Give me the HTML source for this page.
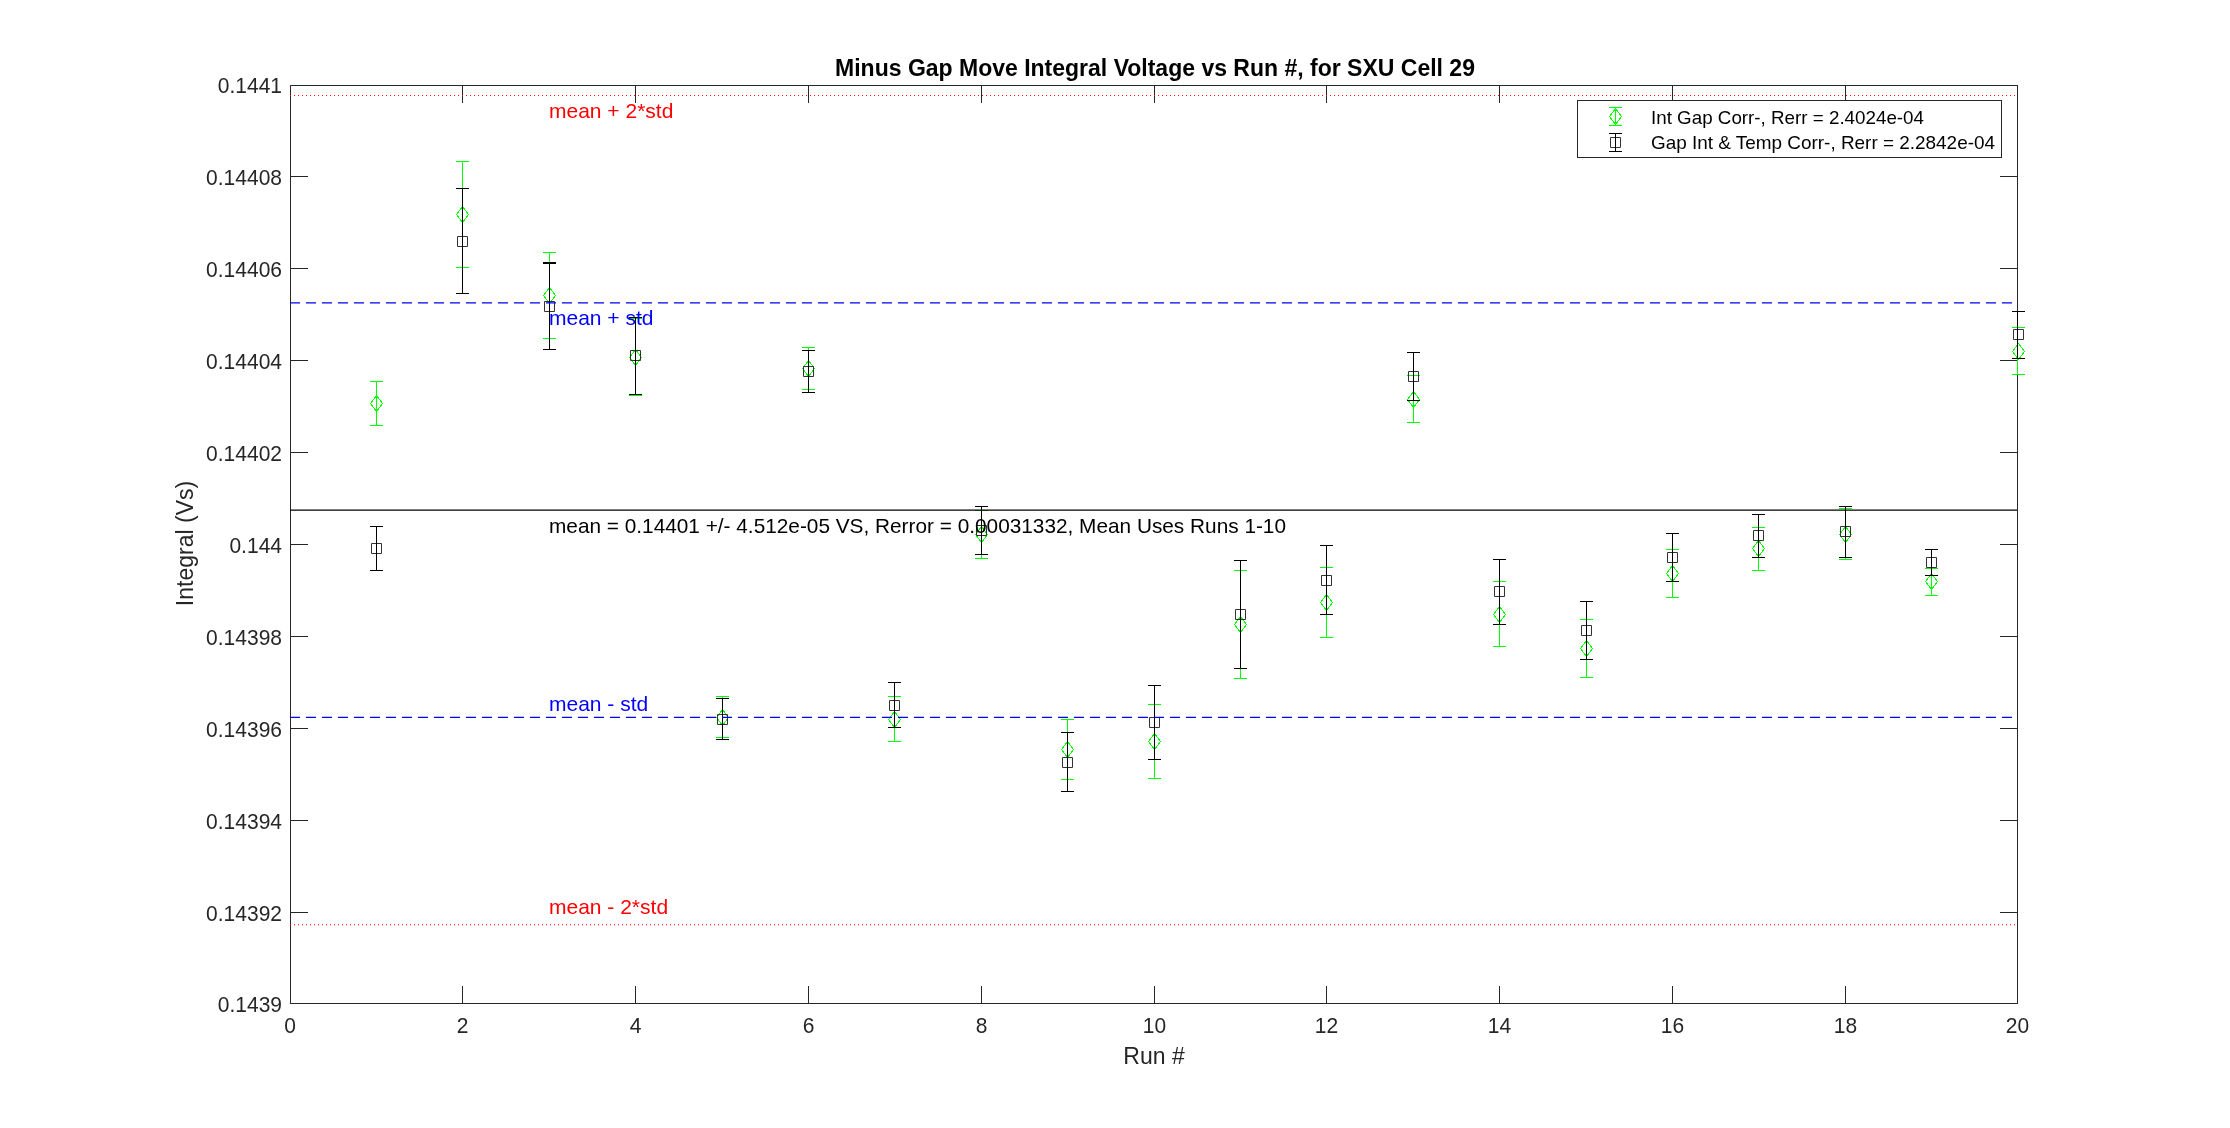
<!DOCTYPE html>
<html><head><meta charset="utf-8"><title>Minus Gap Move Integral Voltage vs Run #, for SXU Cell 29</title>
<style>html,body{margin:0;padding:0;background:#fff;}body{width:2230px;height:1128px;position:relative;overflow:hidden;}</style>
</head><body>
<svg width="2230" height="1128" viewBox="0 0 2230 1128" style="position:absolute;left:0;top:0;will-change:transform">
<rect width="100%" height="100%" fill="#fff"/>
<path d="M290.5 85.5H2017.5V1003.5H290.5ZM290.5 1003.5V986.0M290.5 85.5V103.0M462.5 1003.5V986.0M462.5 85.5V103.0M635.5 1003.5V986.0M635.5 85.5V103.0M808.5 1003.5V986.0M808.5 85.5V103.0M981.5 1003.5V986.0M981.5 85.5V103.0M1154.5 1003.5V986.0M1154.5 85.5V103.0M1326.5 1003.5V986.0M1326.5 85.5V103.0M1499.5 1003.5V986.0M1499.5 85.5V103.0M1672.5 1003.5V986.0M1672.5 85.5V103.0M1845.5 1003.5V986.0M1845.5 85.5V103.0M2017.5 1003.5V986.0M2017.5 85.5V103.0M290.5 85.5H308.0M2017.5 85.5H2000.0M290.5 176.5H308.0M2017.5 176.5H2000.0M290.5 268.5H308.0M2017.5 268.5H2000.0M290.5 360.5H308.0M2017.5 360.5H2000.0M290.5 452.5H308.0M2017.5 452.5H2000.0M290.5 544.5H308.0M2017.5 544.5H2000.0M290.5 636.5H308.0M2017.5 636.5H2000.0M290.5 728.5H308.0M2017.5 728.5H2000.0M290.5 820.5H308.0M2017.5 820.5H2000.0M290.5 912.5H308.0M2017.5 912.5H2000.0M290.5 1003.5H308.0M2017.5 1003.5H2000.0" fill="none" stroke="#262626" stroke-width="1"/>
<path d="M376.5 381.5V425.5M370.0 381.5H383.0M370.0 425.5H383.0M462.5 161.5V267.5M456.0 161.5H469.0M456.0 267.5H469.0M549.5 252.5V338.5M543.0 252.5H556.0M543.0 338.5H556.0M635.5 318.5V395.5M629.0 318.5H642.0M629.0 395.5H642.0M722.5 696.5V737.5M716.0 696.5H729.0M716.0 737.5H729.0M808.5 347.5V389.5M802.0 347.5H815.0M802.0 389.5H815.0M894.5 696.5V741.5M888.0 696.5H901.0M888.0 741.5H901.0M981.5 510.5V558.5M975.0 510.5H988.0M975.0 558.5H988.0M1067.5 719.5V779.5M1061.0 719.5H1074.0M1061.0 779.5H1074.0M1154.5 704.5V778.5M1148.0 704.5H1161.0M1148.0 778.5H1161.0M1240.5 570.5V678.5M1234.0 570.5H1247.0M1234.0 678.5H1247.0M1326.5 567.5V637.5M1320.0 567.5H1333.0M1320.0 637.5H1333.0M1413.5 375.5V422.5M1407.0 375.5H1420.0M1407.0 422.5H1420.0M1499.5 581.5V646.5M1493.0 581.5H1506.0M1493.0 646.5H1506.0M1586.5 619.5V677.5M1580.0 619.5H1593.0M1580.0 677.5H1593.0M1672.5 549.5V597.5M1666.0 549.5H1679.0M1666.0 597.5H1679.0M1758.5 527.5V570.5M1752.0 527.5H1765.0M1752.0 570.5H1765.0M1845.5 508.5V559.5M1839.0 508.5H1852.0M1839.0 559.5H1852.0M1931.5 568.5V595.5M1925.0 568.5H1938.0M1925.0 595.5H1938.0M2017.5 327.5V374.5M2012.0 327.5H2025.0M2012.0 374.5H2025.0" fill="none" stroke="#00ff00" stroke-width="1"/>
<path d="M376.5 395.5L382.5 403.5L376.5 411.5L370.5 403.5ZM462.5 206.5L468.5 214.5L462.5 222.5L456.5 214.5ZM549.5 287.5L555.5 295.5L549.5 303.5L543.5 295.5ZM635.5 349.5L641.5 357.5L635.5 365.5L629.5 357.5ZM722.5 709.5L728.5 717.5L722.5 725.5L716.5 717.5ZM808.5 360.5L814.5 368.5L808.5 376.5L802.5 368.5ZM894.5 711.5L900.5 719.5L894.5 727.5L888.5 719.5ZM981.5 526.5L987.5 534.5L981.5 542.5L975.5 534.5ZM1067.5 741.5L1073.5 749.5L1067.5 757.5L1061.5 749.5ZM1154.5 733.5L1160.5 741.5L1154.5 749.5L1148.5 741.5ZM1240.5 616.5L1246.5 624.5L1240.5 632.5L1234.5 624.5ZM1326.5 594.5L1332.5 602.5L1326.5 610.5L1320.5 602.5ZM1413.5 391.5L1419.5 399.5L1413.5 407.5L1407.5 399.5ZM1499.5 606.5L1505.5 614.5L1499.5 622.5L1493.5 614.5ZM1586.5 640.5L1592.5 648.5L1586.5 656.5L1580.5 648.5ZM1672.5 565.5L1678.5 573.5L1672.5 581.5L1666.5 573.5ZM1758.5 540.5L1764.5 548.5L1758.5 556.5L1752.5 548.5ZM1845.5 526.5L1851.5 534.5L1845.5 542.5L1839.5 534.5ZM1931.5 573.5L1937.5 581.5L1931.5 589.5L1925.5 581.5ZM2018.5 343.5L2024.5 351.5L2018.5 359.5L2012.5 351.5Z" fill="none" stroke="#00ff00" stroke-width="1" shape-rendering="crispEdges"/>
<path d="M371.5 543.5H381.5V553.5H371.5ZM457.5 236.5H467.5V246.5H457.5ZM544.5 301.5H554.5V311.5H544.5ZM630.5 350.5H640.5V360.5H630.5ZM717.5 714.5H727.5V724.5H717.5ZM803.5 366.5H813.5V376.5H803.5ZM889.5 700.5H899.5V710.5H889.5ZM976.5 525.5H986.5V535.5H976.5ZM1062.5 757.5H1072.5V767.5H1062.5ZM1149.5 717.5H1159.5V727.5H1149.5ZM1235.5 609.5H1245.5V619.5H1235.5ZM1321.5 575.5H1331.5V585.5H1321.5ZM1408.5 371.5H1418.5V381.5H1408.5ZM1494.5 586.5H1504.5V596.5H1494.5ZM1581.5 625.5H1591.5V635.5H1581.5ZM1667.5 552.5H1677.5V562.5H1667.5ZM1753.5 530.5H1763.5V540.5H1753.5ZM1840.5 526.5H1850.5V536.5H1840.5ZM1926.5 557.5H1936.5V567.5H1926.5ZM2013.5 329.5H2023.5V339.5H2013.5Z" fill="none" stroke="#333" stroke-width="1"/>
<path d="M376.5 526.5V570.5M370.0 526.5H383.0M370.0 570.5H383.0M462.5 188.5V293.5M456.0 188.5H469.0M456.0 293.5H469.0M549.5 263.5V349.5M543.0 263.5H556.0M543.0 349.5H556.0M635.5 317.5V394.5M629.0 317.5H642.0M629.0 394.5H642.0M722.5 698.5V739.5M716.0 698.5H729.0M716.0 739.5H729.0M808.5 350.5V392.5M802.0 350.5H815.0M802.0 392.5H815.0M894.5 682.5V727.5M888.0 682.5H901.0M888.0 727.5H901.0M981.5 506.5V554.5M975.0 506.5H988.0M975.0 554.5H988.0M1067.5 732.5V791.5M1061.0 732.5H1074.0M1061.0 791.5H1074.0M1154.5 685.5V759.5M1148.0 685.5H1161.0M1148.0 759.5H1161.0M1240.5 560.5V668.5M1234.0 560.5H1247.0M1234.0 668.5H1247.0M1326.5 545.5V614.5M1320.0 545.5H1333.0M1320.0 614.5H1333.0M1413.5 352.5V400.5M1407.0 352.5H1420.0M1407.0 400.5H1420.0M1499.5 559.5V624.5M1493.0 559.5H1506.0M1493.0 624.5H1506.0M1586.5 601.5V659.5M1580.0 601.5H1593.0M1580.0 659.5H1593.0M1672.5 533.5V581.5M1666.0 533.5H1679.0M1666.0 581.5H1679.0M1758.5 514.5V557.5M1752.0 514.5H1765.0M1752.0 557.5H1765.0M1845.5 506.5V557.5M1839.0 506.5H1852.0M1839.0 557.5H1852.0M1931.5 549.5V575.5M1925.0 549.5H1938.0M1925.0 575.5H1938.0M2017.5 311.5V358.5M2012.0 311.5H2025.0M2012.0 358.5H2025.0M543.0 262.5H556.0" fill="none" stroke="#000" stroke-width="1"/>
<line x1="290" y1="95.5" x2="2017" y2="95.5" stroke="#ff0000" stroke-width="1" stroke-dasharray="1 3"/>
<line x1="290" y1="924.75" x2="2017" y2="924.75" stroke="#ff0000" stroke-width="1" stroke-dasharray="1 3"/>
<line x1="290" y1="302.84" x2="2017" y2="302.84" stroke="#0000ff" stroke-width="1.18" stroke-dasharray="10 6"/>
<line x1="290" y1="717.4" x2="2017" y2="717.4" stroke="#0000ff" stroke-width="1.1" stroke-dasharray="10 6"/>
<line x1="290" y1="510.1" x2="2017" y2="510.1" stroke="#000" stroke-width="1.12"/>
<g font-family="Liberation Sans, Arial, Helvetica, sans-serif">
<text x="549" y="118" fill="#ff0000" font-size="21" >mean + 2*std</text>
<text x="549" y="324.6" fill="#0000ff" font-size="21" >mean + std</text>
<text x="549" y="532.8" fill="#000" font-size="21" textLength="737" lengthAdjust="spacingAndGlyphs">mean = 0.14401 +/- 4.512e-05 VS, Rerror = 0.00031332, Mean Uses Runs 1-10</text>
<text x="549" y="710.8" fill="#0000ff" font-size="21" >mean - std</text>
<text x="549" y="913.8" fill="#ff0000" font-size="21" >mean - 2*std</text>
</g>
<g font-family="Liberation Sans, Arial, Helvetica, sans-serif" font-size="21.8" fill="#262626">
<text x="290" y="1033" text-anchor="middle" textLength="11.68" lengthAdjust="spacingAndGlyphs">0</text>
<text x="462.5" y="1033" text-anchor="middle" textLength="11.68" lengthAdjust="spacingAndGlyphs">2</text>
<text x="635.5" y="1033" text-anchor="middle" textLength="11.68" lengthAdjust="spacingAndGlyphs">4</text>
<text x="808.5" y="1033" text-anchor="middle" textLength="11.68" lengthAdjust="spacingAndGlyphs">6</text>
<text x="981.5" y="1033" text-anchor="middle" textLength="11.68" lengthAdjust="spacingAndGlyphs">8</text>
<text x="1154.5" y="1033" text-anchor="middle" textLength="23.36" lengthAdjust="spacingAndGlyphs">10</text>
<text x="1326.5" y="1033" text-anchor="middle" textLength="23.36" lengthAdjust="spacingAndGlyphs">12</text>
<text x="1499.5" y="1033" text-anchor="middle" textLength="23.36" lengthAdjust="spacingAndGlyphs">14</text>
<text x="1672.5" y="1033" text-anchor="middle" textLength="23.36" lengthAdjust="spacingAndGlyphs">16</text>
<text x="1845.5" y="1033" text-anchor="middle" textLength="23.36" lengthAdjust="spacingAndGlyphs">18</text>
<text x="2017.5" y="1033" text-anchor="middle" textLength="23.36" lengthAdjust="spacingAndGlyphs">20</text>
<text x="282" y="93" text-anchor="end" textLength="64.23" lengthAdjust="spacingAndGlyphs">0.1441</text>
<text x="282" y="185.0" text-anchor="end" textLength="75.91" lengthAdjust="spacingAndGlyphs">0.14408</text>
<text x="282" y="277.0" text-anchor="end" textLength="75.91" lengthAdjust="spacingAndGlyphs">0.14406</text>
<text x="282" y="369.0" text-anchor="end" textLength="75.91" lengthAdjust="spacingAndGlyphs">0.14404</text>
<text x="282" y="461.0" text-anchor="end" textLength="75.91" lengthAdjust="spacingAndGlyphs">0.14402</text>
<text x="282" y="553.0" text-anchor="end" textLength="52.55" lengthAdjust="spacingAndGlyphs">0.144</text>
<text x="282" y="645.0" text-anchor="end" textLength="75.91" lengthAdjust="spacingAndGlyphs">0.14398</text>
<text x="282" y="737.0" text-anchor="end" textLength="75.91" lengthAdjust="spacingAndGlyphs">0.14396</text>
<text x="282" y="829.0" text-anchor="end" textLength="75.91" lengthAdjust="spacingAndGlyphs">0.14394</text>
<text x="282" y="921.0" text-anchor="end" textLength="75.91" lengthAdjust="spacingAndGlyphs">0.14392</text>
<text x="282" y="1012.0" text-anchor="end" textLength="64.23" lengthAdjust="spacingAndGlyphs">0.1439</text>
</g>
<g font-family="Liberation Sans, Arial, Helvetica, sans-serif" fill="#262626" font-size="23" text-anchor="middle">
<text x="1154" y="1063.8">Run #</text>
<text transform="translate(193.3 543.5) rotate(-90)">Integral (Vs)</text>
</g>
<text x="1155" y="76" font-family="Liberation Sans, Arial, Helvetica, sans-serif" font-size="23" font-weight="bold" fill="#000" text-anchor="middle">Minus Gap Move Integral Voltage vs Run #, for SXU Cell 29</text>
<rect x="1577.5" y="100.5" width="424" height="57" fill="#fff" stroke="#262626" stroke-width="1"/>
<path d="M1615.5 107.5V125.5M1609.0 107.5H1622.0M1609.0 125.5H1622.0" fill="none" stroke="#00ff00" stroke-width="1"/>
<path d="M1615.5 108.5L1621.5 116.5L1615.5 124.5L1609.5 116.5Z" fill="none" stroke="#00ff00" stroke-width="1" shape-rendering="crispEdges"/>
<path d="M1610.5 137.5H1620.5V147.5H1610.5Z" fill="none" stroke="#333" stroke-width="1"/>
<path d="M1615.5 133.5V151.5M1609.0 133.5H1622.0M1609.0 151.5H1622.0" fill="none" stroke="#000" stroke-width="1"/>
<g font-family="Liberation Sans, Arial, Helvetica, sans-serif" font-size="19" fill="#000">
<text x="1651" y="124" textLength="273" lengthAdjust="spacingAndGlyphs">Int Gap Corr-, Rerr = 2.4024e-04</text>
<text x="1651" y="148.7" textLength="344" lengthAdjust="spacingAndGlyphs">Gap Int &amp; Temp Corr-, Rerr = 2.2842e-04</text>
</g>
</svg>
</body></html>
